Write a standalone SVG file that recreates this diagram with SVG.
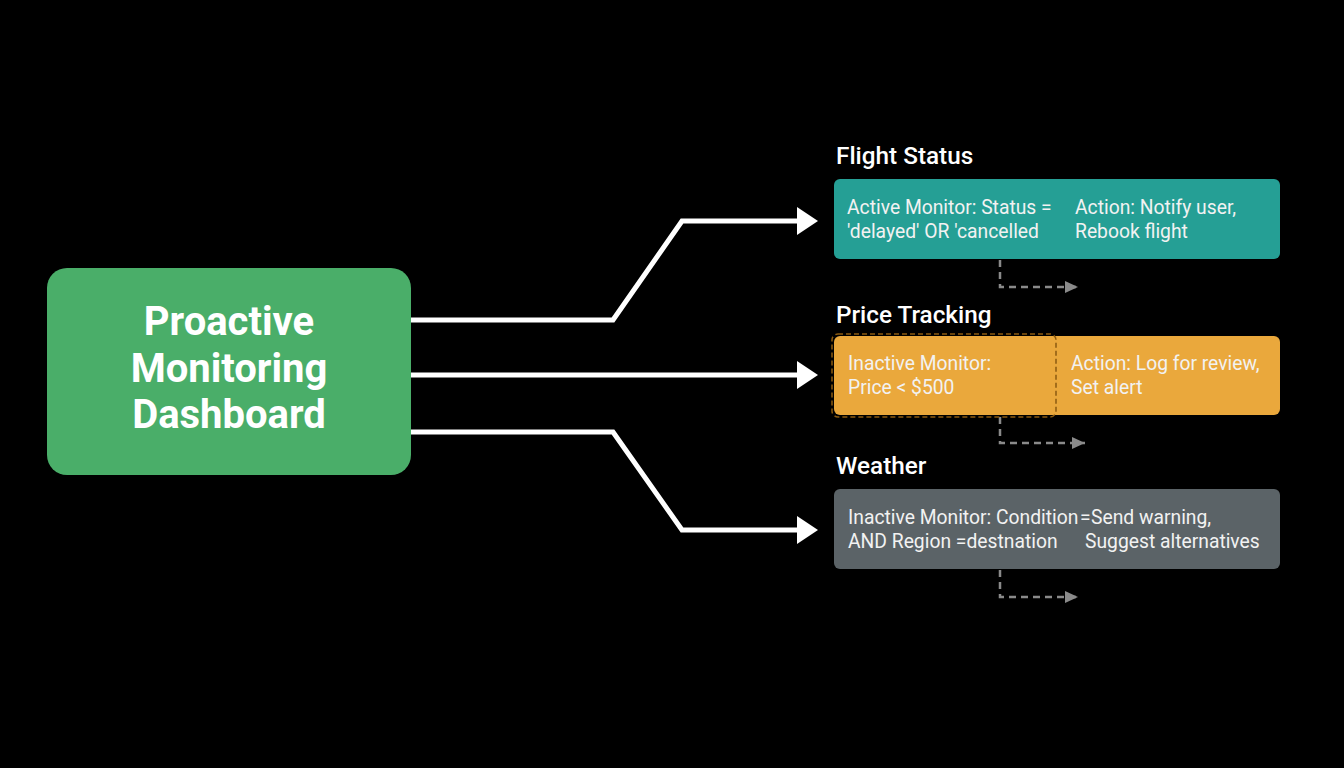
<svg xmlns="http://www.w3.org/2000/svg" width="1344" height="768" viewBox="0 0 1344 768">
<defs>
<style>
.title{font-family:Roboto,"Liberation Sans",sans-serif;font-weight:500;font-size:24.3px;fill:#ffffff}
.body{font-family:Roboto,"Liberation Sans",sans-serif;font-size:19.3px;fill:#f2f2f2}
.main{font-family:Roboto,"Liberation Sans",sans-serif;font-weight:700;font-size:40px;fill:#ffffff;text-anchor:middle}
.conn{fill:none;stroke:#ffffff;stroke-width:5;stroke-linejoin:miter}
.dash{fill:none;stroke:#8a8a8a;stroke-width:2.5;stroke-dasharray:7 5}
</style>
<marker id="arr" markerWidth="22" markerHeight="28" refX="3" refY="14" orient="auto" markerUnits="userSpaceOnUse">
<path d="M0,0 L21,14 L0,28 Z" fill="#ffffff"/>
</marker>
<marker id="darr" markerWidth="14" markerHeight="14" refX="13" refY="7" orient="auto" markerUnits="userSpaceOnUse">
<path d="M0,1 L13,7 L0,13 Z" fill="#8a8a8a"/>
</marker>
</defs>
<rect width="1344" height="768" fill="#000000"/>
<g id="connectors">
<path class="conn" d="M411,320 L613,320 L682,221 L800,221" marker-end="url(#arr)"/>
<path class="conn" d="M411,375 L800,375" marker-end="url(#arr)"/>
<path class="conn" d="M411,432 L613,432 L682,530 L800,530" marker-end="url(#arr)"/>
<path class="dash" d="M1000,260 L1000,287 L1078,287" marker-end="url(#darr)"/>
<path class="dash" d="M1000,417 L1000,443 L1085,443" marker-end="url(#darr)"/>
<path class="dash" d="M1000,570 L1000,597 L1078,597" marker-end="url(#darr)"/>
</g>
<g id="dashboard">
<rect x="47" y="268" width="364" height="207" rx="20" fill="#4aae69"/>
<text class="main" x="229" y="335">Proactive</text>
<text class="main" x="229" y="382">Monitoring</text>
<text class="main" x="229" y="428">Dashboard</text>
</g>
<g id="flight-status">
<text class="title" x="836" y="164">Flight Status</text>
<rect x="834" y="179" width="446" height="80" rx="6" fill="#259f95"/>
<text class="body" x="847" y="214">Active Monitor: Status =</text>
<text class="body" x="847" y="238">'delayed' OR 'cancelled</text>
<text class="body" x="1075" y="214">Action: Notify user,</text>
<text class="body" x="1075" y="238">Rebook flight</text>
</g>
<g id="price-tracking">
<text class="title" x="836" y="323">Price Tracking</text>
<rect x="834" y="336" width="446" height="79" rx="6" fill="#eaa83c"/>
<rect x="832" y="334" width="224" height="83" rx="6" fill="none" stroke="#8a5a10" stroke-width="1.5" stroke-dasharray="5 3"/>
<text class="body" x="848" y="370">Inactive Monitor:</text>
<text class="body" x="848" y="394">Price &lt; $500</text>
<text class="body" x="1071" y="370">Action: Log for review,</text>
<text class="body" x="1071" y="394">Set alert</text>
</g>
<g id="weather">
<text class="title" x="836" y="474">Weather</text>
<rect x="834" y="489" width="446" height="80" rx="6" fill="#5b6367"/>
<text class="body" x="848" y="524">Inactive Monitor: Condition</text>
<text class="body" x="1080" y="524">=</text>
<text class="body" x="1091" y="524">Send warning,</text>
<text class="body" x="848" y="548">AND Region =destnation</text>
<text class="body" x="1085" y="548">Suggest alternatives</text>
</g>
</svg>
